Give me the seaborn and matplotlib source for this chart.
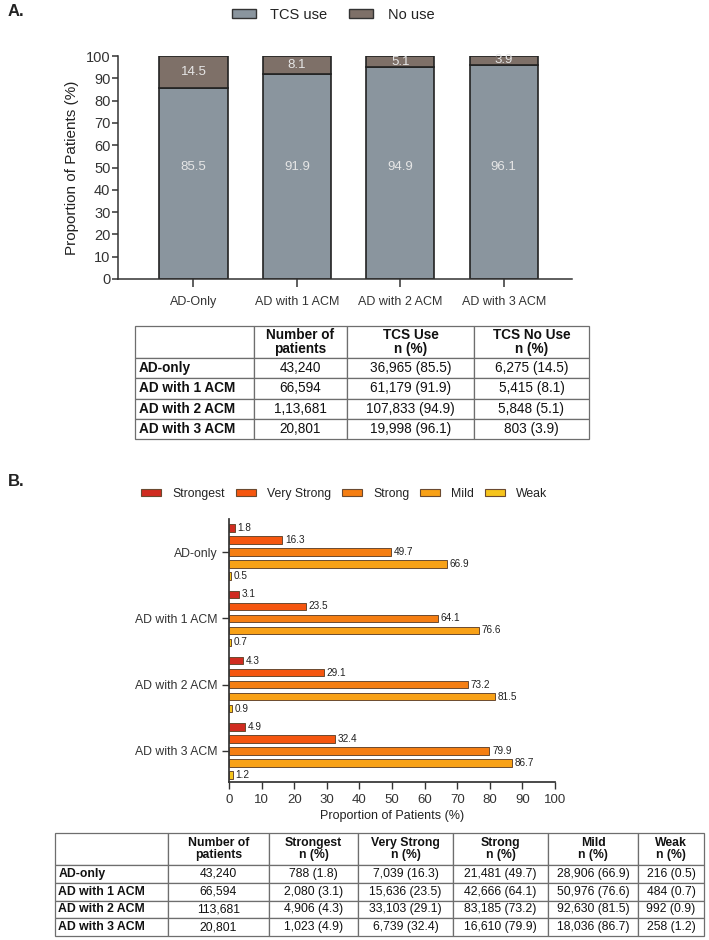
import matplotlib
matplotlib.use("Agg")
import matplotlib.pyplot as plt
from matplotlib.patches import Patch
import seaborn as sns
import pandas as pd

# ---------------- data ----------------
groups_a = ["AD-Only", "AD with 1 ACM", "AD with 2 ACM", "AD with 3 ACM"]
tcs_use = [85.5, 91.9, 94.9, 96.1]
no_use = [14.5, 8.1, 5.1, 3.9]
series_a = ["TCS use", "No use"]

groups_b = ["AD-only", "AD with 1 ACM", "AD with 2 ACM", "AD with 3 ACM"]
potency = ["Strongest", "Very Strong", "Strong", "Mild", "Weak"]
strongest = [1.8, 3.1, 4.3, 4.9]
very_strong = [16.3, 23.5, 29.1, 32.4]
strong = [49.7, 64.1, 73.2, 79.9]
mild = [66.9, 76.6, 81.5, 86.7]
weak = [0.5, 0.7, 0.9, 1.2]

table_a_header = ["", "Number of\npatients", "TCS Use\nn (%)", "TCS No Use\nn (%)"]
table_a_rows = [
    ["AD-only", "43,240", "36,965 (85.5)", "6,275 (14.5)"],
    ["AD with 1 ACM", "66,594", "61,179 (91.9)", "5,415 (8.1)"],
    ["AD with 2 ACM", "1,13,681", "107,833 (94.9)", "5,848 (5.1)"],
    ["AD with 3 ACM", "20,801", "19,998 (96.1)", "803 (3.9)"],
]
table_b_header = ["", "Number of\npatients", "Strongest\nn (%)", "Very Strong\nn (%)",
                  "Strong\nn (%)", "Mild\nn (%)", "Weak\nn (%)"]
table_b_rows = [
    ["AD-only", "43,240", "788 (1.8)", "7,039 (16.3)", "21,481 (49.7)", "28,906 (66.9)", "216 (0.5)"],
    ["AD with 1 ACM", "66,594", "2,080 (3.1)", "15,636 (23.5)", "42,666 (64.1)", "50,976 (76.6)", "484 (0.7)"],
    ["AD with 2 ACM", "113,681", "4,906 (4.3)", "33,103 (29.1)", "83,185 (73.2)", "92,630 (81.5)", "992 (0.9)"],
    ["AD with 3 ACM", "20,801", "1,023 (4.9)", "6,739 (32.4)", "16,610 (79.9)", "18,036 (86.7)", "258 (1.2)"],
]

# ---------------- style ----------------
sns.set_theme(style="ticks")
plt.rcParams["font.family"] = ["Liberation Sans", "DejaVu Sans"]
plt.rcParams["axes.edgecolor"] = "#333333"
plt.rcParams["xtick.color"] = "#333333"
plt.rcParams["ytick.color"] = "#333333"
plt.rcParams["text.color"] = "#222222"
plt.rcParams["axes.labelcolor"] = "#222222"

W, H = 709, 940
fig = plt.figure(figsize=(W / 100, H / 100), dpi=100)


def rect(l, t, r, b):
    return [l / W, 1 - b / H, (r - l) / W, (b - t) / H]


c_tcs = "#8a959e"
c_no = "#7e7068"
pal_b = ["#d02c20", "#f5560f", "#f57e12", "#f8a117", "#f6c41c"]

# ---------------- Panel A chart ----------------
axA = fig.add_axes(rect(118, 56, 572, 279))
df_a = pd.DataFrame({"group": groups_a, "tcs": tcs_use, "no": no_use})
sns.barplot(data=df_a, x="group", y="tcs", color=c_tcs, saturation=1, width=0.66,
            edgecolor="#222222", linewidth=1.2, ax=axA)
sns.barplot(data=df_a, x="group", y="no", bottom=df_a["tcs"].values, color=c_no,
            saturation=1, width=0.66, edgecolor="#222222", linewidth=1.2, ax=axA)
axA.set_xlim(-0.73, 3.66)
axA.set_ylim(0, 100)
axA.set_yticks(range(0, 101, 10))
axA.set_xlabel("")
axA.set_ylabel("Proportion of Patients (%)", fontsize=11, labelpad=5)
axA.tick_params(axis="y", labelsize=10.5, length=4, width=1.1, pad=1.5)
axA.tick_params(axis="x", labelsize=9, length=6, width=1.1, pad=6)
sns.despine(ax=axA)
for sp in axA.spines.values():
    sp.set_linewidth(1.1)

tcs_bars = axA.containers[0]
for bar, v in zip(tcs_bars, tcs_use):
    axA.text(bar.get_x() + bar.get_width() / 2, 50, f"{v}", ha="center", va="center",
             color="#e6e6e6", fontsize=9.5)
axA.bar_label(axA.containers[1], labels=[f"{v}" for v in no_use], label_type="center",
              color="#e6e6e6", fontsize=9.5)

fig.legend(handles=[Patch(facecolor=c_tcs, edgecolor="#333333", linewidth=1),
                    Patch(facecolor=c_no, edgecolor="#333333", linewidth=1)],
           labels=series_a, loc="center", bbox_to_anchor=(333 / W, 1 - 15 / H), ncol=2,
           frameon=False, fontsize=10.5, handlelength=1.64, handleheight=0.55,
           handletextpad=1.0, columnspacing=1.5)

fig.text(8 / W, 1 - 12 / H, "A.", fontsize=12, fontweight="bold", va="center", ha="left")
fig.text(8 / W, 1 - 481 / H, "B.", fontsize=12, fontweight="bold", va="center", ha="left")

# ---------------- Panel B chart ----------------
axB = fig.add_axes(rect(229, 519, 555, 782))
df_b = pd.DataFrame({
    "group": groups_b * 5,
    "potency": [p for p in potency for _ in groups_b],
    "value": strongest + very_strong + strong + mild + weak,
})
sns.barplot(data=df_b, y="group", x="value", hue="potency", hue_order=potency,
            palette=pal_b, saturation=1, orient="h", width=0.905, gap=0.375,
            edgecolor="#6b4a30", linewidth=0.7, legend=False, ax=axB)
axB.set_xlim(0, 100)
axB.set_ylim(3.47, -0.5)
axB.set_xticks(range(0, 101, 10))
axB.set_ylabel("")
axB.set_xlabel("Proportion of Patients (%)", fontsize=9, labelpad=3)
axB.tick_params(axis="y", labelsize=8.8, length=5, width=1)
axB.tick_params(axis="x", labelsize=9.5, length=5, width=1)
sns.despine(ax=axB)
for cont in axB.containers:
    axB.bar_label(cont, fmt="%.1f", padding=2, fontsize=7.2)

fig.legend(handles=[Patch(facecolor=c, edgecolor="#6b4a30", linewidth=0.8) for c in pal_b],
           labels=potency, loc="center", bbox_to_anchor=(344.5 / W, 1 - 494 / H), ncol=5,
           frameon=False, fontsize=8.8, handlelength=1.64, handleheight=0.5,
           handletextpad=0.9, columnspacing=0.9)


# ---------------- Tables ----------------
def draw_table(box, header, rows, col_px, header_h, row_h, fontsize):
    ax = fig.add_axes(rect(*box))
    ax.axis("off")
    total = sum(col_px)
    tab = ax.table(cellText=[header] + rows, colWidths=[c / total for c in col_px],
                   cellLoc="center", bbox=[0, 0, 1, 1])
    tab.auto_set_font_size(False)
    tab.set_fontsize(fontsize)
    for (r, c), cell in tab.get_celld().items():
        cell.set_edgecolor("#6e6e6e")
        cell.set_linewidth(0.9)
        cell.set_height(header_h if r == 0 else row_h)
        txt = cell.get_text()
        txt.set_color("#111111")
        txt.set_linespacing(1.05)
        if r == 0 or c == 0:
            txt.set_fontweight("bold")
        if c == 0:
            txt.set_ha("left")
            cell.PAD = 0.03
    return tab


draw_table((135, 326, 589, 439), table_a_header, table_a_rows,
           [119, 93, 127, 115], 32, 20.25, 9.8)
draw_table((55, 833, 704, 936), table_b_header, table_b_rows,
           [113, 101, 89, 95, 95, 90, 66], 32, 17.75, 8.8)

fig.savefig("out.png", dpi=100)
